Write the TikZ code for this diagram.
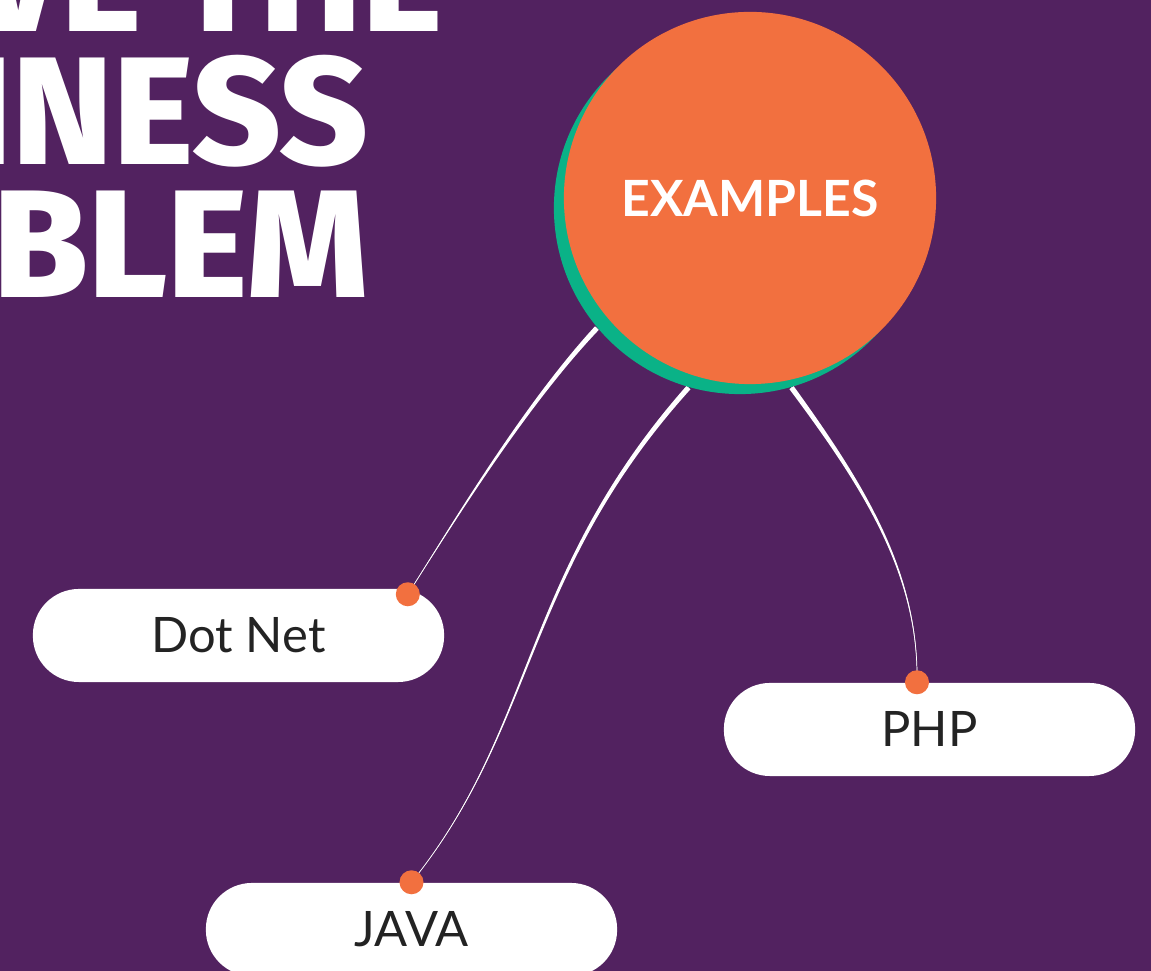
\documentclass[tikz,border=0pt]{standalone}
\usepackage{fontspec}
\setmainfont{Lato}
\newfontfamily\firafont{Fira Sans}
\IfFontExistsTF{Fira Sans ExtraBold}
  {\newfontfamily\titlefont{Fira Sans ExtraBold}}
  {\newcommand\titlefont{\firafont\bfseries}}
\usetikzlibrary{positioning,calc}

\definecolor{bgpurple}{HTML}{522260}
\definecolor{pinorange}{HTML}{F2703F}
\definecolor{shadowgreen}{HTML}{0AB287}
\definecolor{labelgrey}{HTML}{232323}

\pgfdeclarelayer{backdrop}
\pgfdeclarelayer{links}
\pgfsetlayers{backdrop,links,main}

\tikzset{
  pill/.style={rectangle, rounded corners=0.46cm, fill=white, minimum width=4.11cm,
    minimum height=0.93cm, inner sep=0pt, text=labelgrey, font=\fontsize{13.9}{16}\selectfont},
  pin/.style={circle, fill=pinorange, minimum size=0.24cm, inner sep=0pt},
  hub/.style={circle, fill=pinorange, minimum size=3.72cm, inner sep=0pt, text=white,
    font=\bfseries\fontsize{14.2}{17}\selectfont},
  hubshadow/.style={circle, fill=shadowgreen, minimum size=3.72cm, inner sep=0pt},
  headline/.style={anchor=base east, inner sep=0pt, text=white,
    font=\titlefont\fontsize{43.6}{50}\selectfont}
}

% tapered link: start, control, control, end
\newcommand\taperlink[4]{%
  \fill[white] ($(#1)!0.026cm!90:(#2)$) .. controls ($(#2)!0.017cm!90:(#3)$) and ($(#3)!0.007cm!90:(#4)$) .. (#4)
    .. controls ($(#3)!0.007cm!-90:(#4)$) and ($(#2)!0.017cm!-90:(#3)$) .. ($(#1)!0.026cm!-90:(#2)$) -- cycle;
  \draw[white, line width=0.2pt] (#1) .. controls (#2) and (#3) .. (#4);
}

\begin{document}
\begin{tikzpicture}[x=0.01cm, y=-0.01cm]
  \useasboundingbox (0,0) rectangle (1151,971);

  % Headline, cut by the left edge
  \begin{scope}
    \clip (0,0) rectangle (1151,971);
    \node[headline] (lineone) at (443,32) {SOLVE THE};
    \node[headline] (linetwo) at (369,165) {BUSINESS};
    \node[headline] (linethree) at (369,298) {PROBLEM};
  \end{scope}

  % Hub circle with its green shadow
  \node[hubshadow] (shadow) at (740,208) {};
  \node[hub] (hub) at (750,198) {EXAMPLES};

  % Pills
  \node[pill] (dotnet) at (238.5,635.5) {Dot Net};
  \node[pill] (php) at (929.5,729.5) {PHP};
  \node[pill] (java) at (411.5,929.5) {JAVA};

  % Pins on the pills
  \node[pin] (netpin) at ([xshift=-0.37cm,yshift=-0.06cm]dotnet.north east) {};
  \node[pin] (phppin) at ([xshift=-0.125cm]php.north) {};
  \node[pin] (javapin) at (java.north) {};

  % Control points of the links
  \coordinate (netc1) at (525,405);
  \coordinate (netc2) at (455,520);
  \coordinate (javac1) at (522,574);
  \coordinate (javac2) at (537,727);
  \coordinate (phpc1) at (863,485);
  \coordinate (phpc2) at (919,573);

  \begin{pgfonlayer}{backdrop}
    \fill[bgpurple] (0,0) rectangle (1151,971);
  \end{pgfonlayer}

  \begin{pgfonlayer}{links}
    % Drawing link hub Dot Net
    \taperlink{shadow.220}{netc1}{netc2}{netpin.center}
    % Drawing link hub JAVA
    \taperlink{shadow.-106}{javac1}{javac2}{javapin.center}
    % Drawing link hub PHP
    \taperlink{shadow.-74}{phpc1}{phpc2}{phppin.center}
  \end{pgfonlayer}
\end{tikzpicture}
\end{document}
